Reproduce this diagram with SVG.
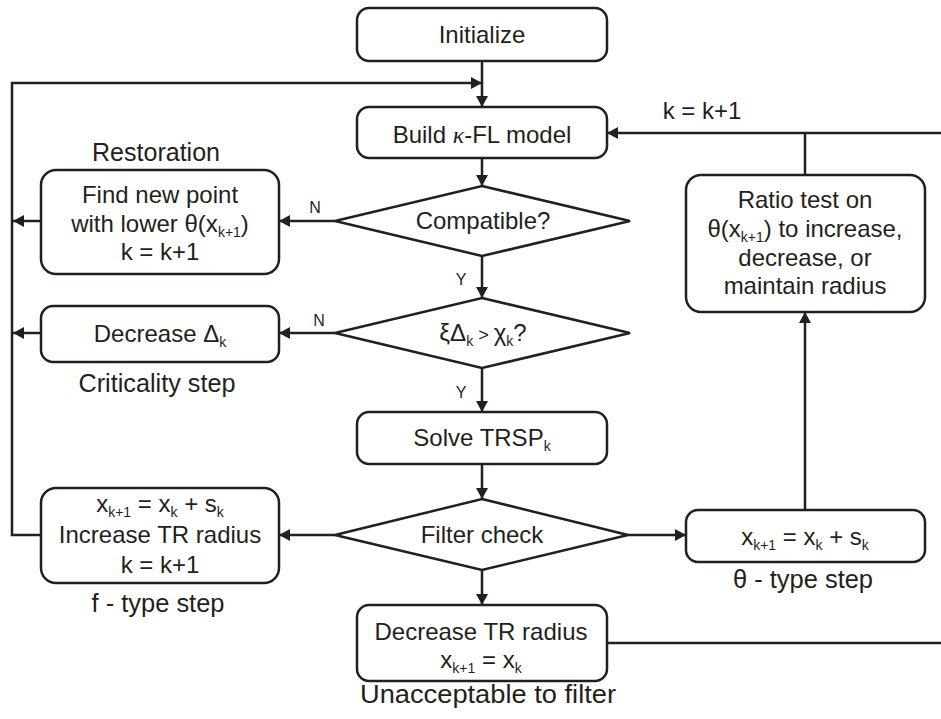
<svg xmlns="http://www.w3.org/2000/svg" width="941" height="719" viewBox="0 0 941 719">
<defs>
<marker id="ah" markerUnits="userSpaceOnUse" markerWidth="11" markerHeight="12" refX="11" refY="6" orient="auto"><path d="M0,0 L11,6 L0,12 z" fill="#231f20"/></marker>
<style>
.box{fill:#fff;stroke:#231f20;stroke-width:2.5}
.ln{fill:none;stroke:#231f20;stroke-width:2.5}
.arr{marker-end:url(#ah)}
text{font-family:"Liberation Sans",Arial,Helvetica,sans-serif;fill:#231f20;text-anchor:middle}
.t{font-size:24px}
.lab{font-size:25px}
.yn{font-size:16px}
.sub{font-size:14px}
.kap{font-family:"Liberation Serif","Times New Roman",serif;font-style:italic}
</style>
</defs>
<rect x="0" y="0" width="941" height="719" fill="#fff"/>

<g id="connectors">
<line class="ln arr" x1="482" y1="61" x2="482" y2="107"/>
<path class="ln arr" d="M41,535 H12 V83 H482"/>
<line class="ln arr" x1="482" y1="158" x2="482" y2="186"/>
<line class="ln arr" x1="335" y1="221" x2="279" y2="221"/>
<line class="ln arr" x1="41" y1="221" x2="13" y2="221"/>
<line class="ln arr" x1="482" y1="256" x2="482" y2="298"/>
<line class="ln arr" x1="335" y1="333" x2="279" y2="333"/>
<line class="ln arr" x1="41" y1="333" x2="13" y2="333"/>
<line class="ln arr" x1="482" y1="368" x2="482" y2="412"/>
<line class="ln arr" x1="482" y1="464" x2="482" y2="499"/>
<line class="ln arr" x1="335" y1="535" x2="279" y2="535"/>
<line class="ln arr" x1="628" y1="535" x2="686" y2="535"/>
<line class="ln arr" x1="482" y1="570" x2="482" y2="605"/>
<line class="ln arr" x1="805" y1="510" x2="805" y2="312"/>
<line class="ln" x1="805" y1="175" x2="805" y2="133"/>
<line class="ln arr" x1="941" y1="133" x2="607" y2="133"/>
<line class="ln" x1="607" y1="643" x2="941" y2="643"/>
<text class="yn" x="315" y="213">N</text>
<text class="yn" x="319" y="326">N</text>
<text class="yn" x="461" y="285">Y</text>
<text class="yn" x="461" y="398">Y</text>
<text class="t" x="702" y="119">k = k+1</text>
</g>

<g id="initialize">
<rect class="box" x="357" y="8" width="250" height="53" rx="12"/>
<text class="t" x="482" y="43">Initialize</text>
</g>

<g id="build-model">
<rect class="box" x="357" y="107" width="250" height="51" rx="12"/>
<text class="t" x="482" y="143">Build <tspan class="kap">κ</tspan>-FL model</text>
</g>

<g id="compatible">
<polygon class="box" points="482,186 630,221 482,256 335,221"/>
<text class="t" x="483" y="229">Compatible?</text>
</g>

<g id="restoration">
<rect class="box" x="41" y="170" width="238" height="104" rx="15"/>
<text class="t" x="160" y="203">Find new point</text>
<text class="t" x="160" y="232">with lower θ(x<tspan class="sub" dy="5">k+1</tspan><tspan dy="-5">)</tspan></text>
<text class="t" x="160" y="260">k = k+1</text>
<text class="lab" x="156" y="161" textLength="128" lengthAdjust="spacingAndGlyphs">Restoration</text>
</g>

<g id="criticality-test">
<polygon class="box" points="482,298 630,333 482,368 335,333"/>
<text class="t" x="483" y="341">ξΔ<tspan class="sub" dy="5">k</tspan><tspan dy="-5" font-size="18"> &gt; </tspan>χ<tspan class="sub" dy="5">k</tspan><tspan dy="-5">?</tspan></text>
</g>

<g id="decrease-delta">
<rect class="box" x="41" y="306" width="238" height="56" rx="12"/>
<text class="t" x="160" y="342">Decrease Δ<tspan class="sub" dy="5">k</tspan></text>
<text class="lab" x="157" y="392" textLength="157" lengthAdjust="spacingAndGlyphs">Criticality step</text>
</g>

<g id="solve">
<rect class="box" x="357" y="412" width="250" height="52" rx="12"/>
<text class="t" x="482" y="446">Solve TRSP<tspan class="sub" dy="5">k</tspan></text>
</g>

<g id="filter-check">
<polygon class="box" points="482,499 628,535 482,570 335,535"/>
<text class="t" x="482" y="543">Filter check</text>
</g>

<g id="f-type">
<rect class="box" x="41" y="488" width="238" height="95" rx="15"/>
<text class="t" x="160" y="512">x<tspan class="sub" dy="5">k+1</tspan><tspan dy="-5"> = x</tspan><tspan class="sub" dy="5">k</tspan><tspan dy="-5"> + s</tspan><tspan class="sub" dy="5">k</tspan></text>
<text class="t" x="160" y="543">Increase TR radius</text>
<text class="t" x="160" y="573">k = k+1</text>
<text class="lab" x="158" y="612" textLength="133" lengthAdjust="spacingAndGlyphs">f - type step</text>
</g>

<g id="theta-type">
<rect class="box" x="686" y="510" width="239" height="52" rx="12"/>
<text class="t" x="805" y="545">x<tspan class="sub" dy="5">k+1</tspan><tspan dy="-5"> = x</tspan><tspan class="sub" dy="5">k</tspan><tspan dy="-5"> + s</tspan><tspan class="sub" dy="5">k</tspan></text>
<text class="lab" x="803" y="588" textLength="140" lengthAdjust="spacingAndGlyphs">θ - type step</text>
</g>

<g id="ratio-test">
<rect class="box" x="686" y="175" width="239" height="137" rx="15"/>
<text class="t" x="805" y="208">Ratio test on</text>
<text class="t" x="805" y="237">θ(x<tspan class="sub" dy="5">k+1</tspan><tspan dy="-5">) to increase,</tspan></text>
<text class="t" x="805" y="266">decrease, or</text>
<text class="t" x="805" y="294">maintain radius</text>
</g>

<g id="decrease-tr">
<rect class="box" x="357" y="605" width="250" height="76" rx="12"/>
<text class="t" x="481" y="640">Decrease TR radius</text>
<text class="t" x="481" y="668">x<tspan class="sub" dy="5">k+1</tspan><tspan dy="-5"> = x</tspan><tspan class="sub" dy="5">k</tspan></text>
<text class="lab" x="488" y="703" textLength="256" lengthAdjust="spacingAndGlyphs">Unacceptable to filter</text>
</g>
</svg>
